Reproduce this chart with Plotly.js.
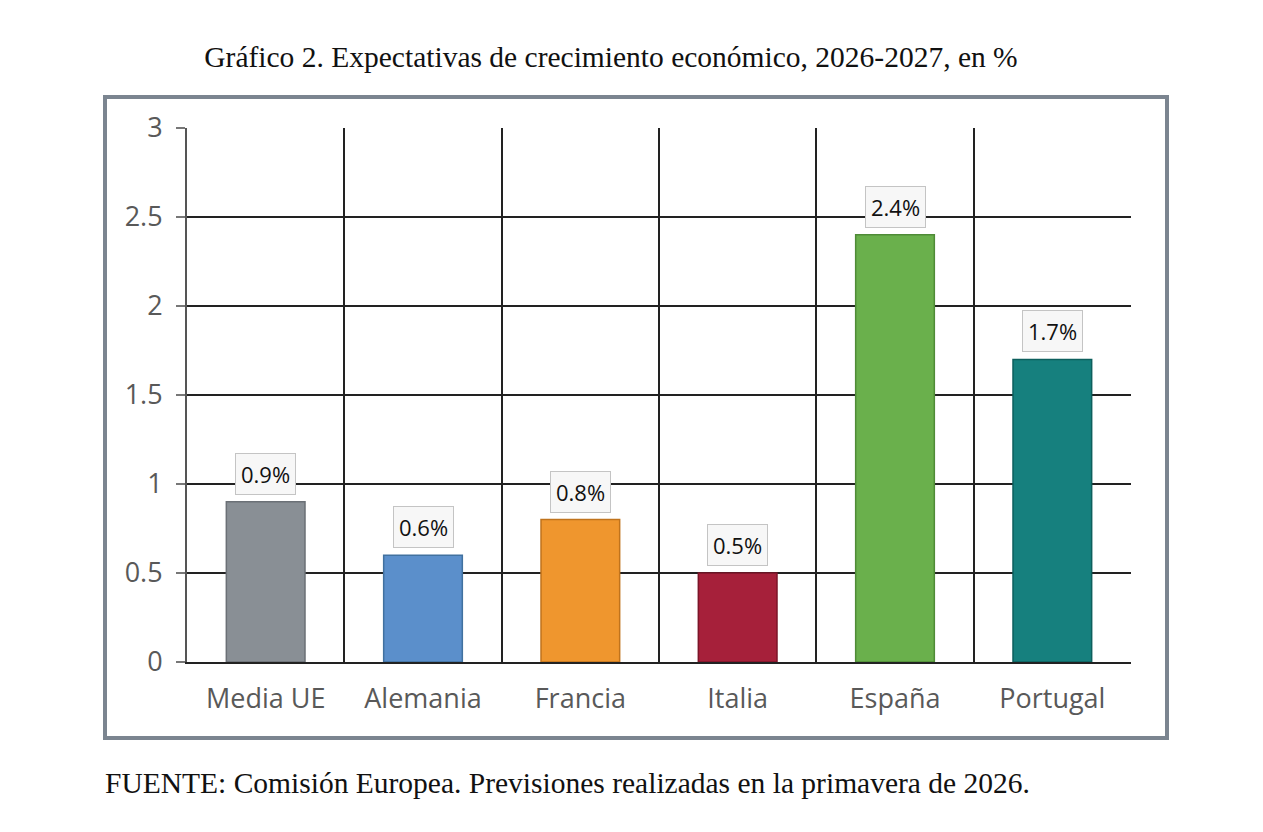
<!DOCTYPE html>
<html>
<head>
<meta charset="utf-8">
<script src="https://cdn.plot.ly/plotly-3.0.1.min.js"></script>
<style>
  body { margin: 0; background: #fff; }
  #wrap { position: relative; width: 1263px; height: 832px; }
  #chart { width: 1263px; height: 832px; }
  #frame {
    position: absolute; left: 103px; top: 95px; width: 1058px; height: 637px;
    border: 4px solid #7b8590; pointer-events: none;
  }
</style>
</head>
<body>
<div id="wrap">
  <div id="chart"></div>
  <div id="frame"></div>
</div>
<script>
// Data
const countries = ['Media UE', 'Alemania', 'Francia', 'Italia', 'España', 'Portugal'];
const growth = [0.9, 0.6, 0.8, 0.5, 2.4, 1.7];
const barColors = ['#898f95', '#5b8fcb', '#ef962e', '#a6203a', '#6ab04c', '#16807e'];
const edgeColors = ['#6b7076', '#41719f', '#c0731c', '#7c1528', '#4f8b37', '#0d5f5d'];

const bars = {
    x: countries,
    y: growth,
    type: 'bar',
    width: 0.5,
    marker: { color: barColors, line: { color: edgeColors, width: 1.5 } },
    hoverinfo: 'x+y'
};

// Value boxes above each bar
const labels = countries.map((c, i) => ({
    x: c,
    y: growth[i],
    xref: 'x',
    yref: 'y',
    text: growth[i].toFixed(1) + '%',
    showarrow: false,
    yanchor: 'bottom',
    yshift: 7,
    bgcolor: '#f7f7f7',
    bordercolor: '#c4c4c4',
    borderwidth: 1,
    borderpad: 5,
    font: { family: 'Open Sans, sans-serif', size: 22, color: '#111' }
}));

// Source note under the frame
labels.push({
    text: 'FUENTE: Comisión Europea. Previsiones realizadas en la primavera de 2026.',
    xref: 'paper', yref: 'paper',
    x: -0.089, y: -0.227,
    xanchor: 'left', yanchor: 'middle',
    showarrow: false,
    font: { family: 'Liberation Serif, Times New Roman, serif', size: 29.5, color: '#111' }
});

const layout = {
    width: 1263,
    height: 832,
    margin: { l: 187, r: 132, t: 128, b: 170 },
    paper_bgcolor: '#fff',
    plot_bgcolor: '#fff',
    showlegend: false,
    title: {
        text: 'Gráfico 2. Expectativas de crecimiento económico, 2026-2027, en %',
        font: { family: 'Liberation Serif, Times New Roman, serif', size: 29.5, color: '#111' },
        x: 611 / 1263,
        xanchor: 'center',
        y: 1 - 57 / 832,
        yanchor: 'middle'
    },
    xaxis: {
        type: 'category',
        range: [-0.5, 5.5],
        showgrid: false,
        showline: true,
        linecolor: '#222',
        linewidth: 2,
        ticks: '',
        tickfont: { family: 'Open Sans, sans-serif', size: 27, color: '#595959' },
        ticklabelstandoff: 12,
        fixedrange: true
    },
    // linear copy of the x axis, only to draw the category separators
    xaxis2: {
        overlaying: 'x',
        range: [-0.5, 5.5],
        tick0: -0.5,
        dtick: 1,
        showgrid: true,
        gridcolor: '#222',
        gridwidth: 2,
        showticklabels: false,
        zeroline: false,
        ticks: '',
        fixedrange: true
    },
    yaxis: {
        range: [0, 3],
        dtick: 0.5,
        showgrid: true,
        gridcolor: '#222',
        gridwidth: 2,
        zeroline: false,
        showline: true,
        linecolor: '#555',
        linewidth: 2,
        ticks: 'outside',
        ticklen: 9,
        tickcolor: '#777',
        tickwidth: 2,
        tickfont: { family: 'Open Sans, sans-serif', size: 27, color: '#595959' },
        ticklabelstandoff: 8,
        fixedrange: true
    },
    annotations: labels
};

// invisible trace so xaxis2 gets drawn
const gridHelper = {
    x: [-0.5, 5.5],
    y: [0, 0],
    xaxis: 'x2',
    yaxis: 'y',
    mode: 'markers',
    marker: { opacity: 0 },
    hoverinfo: 'skip'
};

Plotly.newPlot('chart', [gridHelper, bars], layout, { displayModeBar: false, staticPlot: true });
</script>
</body>
</html>
